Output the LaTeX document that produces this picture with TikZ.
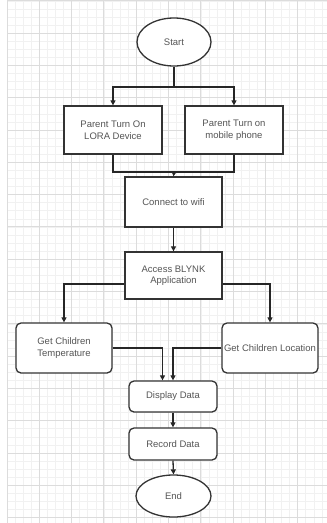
\documentclass[tikz,border=0pt]{standalone}
\usepackage{fontspec}
\setmainfont{Liberation Sans}
\usetikzlibrary{shapes.geometric,arrows.meta,calc}
\definecolor{majorgrid}{HTML}{DCDCDC}
\definecolor{minorgrid}{HTML}{F1F1F1}
\definecolor{boxline}{HTML}{333333}
\definecolor{txt}{HTML}{555555}
\tikzset{
  base/.style={draw=boxline, line width=1.3pt, fill=white, text=txt, font=\fontsize{9.5}{11.5}\selectfont, align=center, inner sep=1pt},
  termbox/.style={base, ellipse},
  procbox/.style={base, rectangle},
  roundbox/.style={base, rectangle, rounded corners=5pt},
  conn/.style={draw=black!85, line width=1.3pt},
  arr/.style={conn, -{Triangle[length=5pt,width=5pt]}}
}
\begin{document}
\begin{tikzpicture}[x=1pt,y=-1pt]
\useasboundingbox (0,0) rectangle (327,523);
\fill[white] (0,0) rectangle (327,523);
% grid
\foreach \i in {0,...,39} {
  \draw[minorgrid, line width=0.6pt] ({7+8.075*\i},0) -- ({7+8.075*\i},523);
}
\foreach \j in {0,...,64} {
  \draw[minorgrid, line width=0.6pt] (7,{0.8+8.075*\j}) -- (327,{0.8+8.075*\j});
}
\foreach \i in {0,...,9} {
  \draw[majorgrid, line width=0.9pt] ({7+32.3*\i},0) -- ({7+32.3*\i},523);
}
\foreach \j in {0,...,16} {
  \draw[majorgrid, line width=0.9pt] (7,{0.8+32.3*\j}) -- (327,{0.8+32.3*\j});
}
% nodes
\node[termbox, minimum width=74pt, minimum height=48pt] (start) at (174,42) {Start};
\node[procbox, minimum width=98pt, minimum height=48pt] (lora) at (113,130) {Parent Turn On\\LORA Device};
\node[procbox, minimum width=98pt, minimum height=48pt] (phone) at (234,130) {Parent Turn on\\mobile phone};
\node[procbox, minimum width=97pt, minimum height=50pt] (wifi) at (173.5,202) {Connect to wifi};
\node[procbox, minimum width=97pt, minimum height=47pt] (blynk) at (173.5,275.5) {Access BLYNK\\Application};
\node[roundbox, minimum width=96pt, minimum height=50pt] (temp) at (64,348) {Get Children\\Temperature};
\node[roundbox, minimum width=96pt, minimum height=50pt, inner sep=0pt] (loc) at (270,348) {Get Children Location};
\node[roundbox, minimum width=88pt, minimum height=31pt] (disp) at (173,396.5) {Display Data};
\node[roundbox, minimum width=88pt, minimum height=32pt] (rec) at (173,444) {Record Data};
\node[termbox, minimum width=75pt, minimum height=42pt] (end) at (173.5,496) {End};
% junctions
\coordinate (j1) at (174,87);
\coordinate (j2) at (174,172);
% connectors
\draw[conn] (start.south) -- (j1);
\draw[arr] (j1) -| (lora.north);
\draw[arr] (j1) -| (phone.north);
\draw[conn] (lora.south) |- (j2);
\draw[conn] (phone.south) |- (j2);
\draw[arr] (j2) -- (wifi.north);
\draw[arr] (wifi.south) -- (blynk.north);
\draw[arr] ([yshift=-8.5pt]blynk.west) -| (temp.north);
\draw[arr] ([yshift=-8.5pt]blynk.east) -| (loc.north);
\draw[arr] (temp.east) -| ([xshift=-10.5pt]disp.north);
\draw[arr] (loc.west) -| (disp.north);
\draw[arr] (disp.south) -- (rec.north);
\draw[arr] (rec.south) -- (end.north);
\end{tikzpicture}
\end{document}
